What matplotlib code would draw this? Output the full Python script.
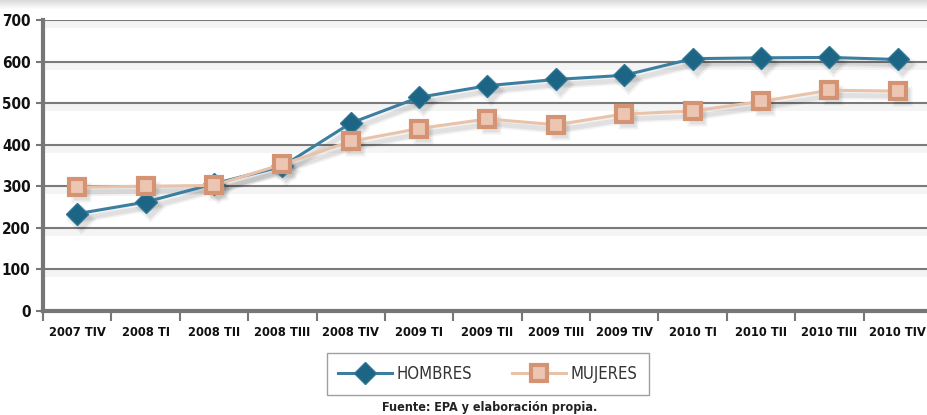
import matplotlib
matplotlib.use("Agg")
import matplotlib.pyplot as plt
import matplotlib.transforms as mtrans
import numpy as np

categories = ["2007 TIV", "2008 TI", "2008 TII", "2008 TIII", "2008 TIV", "2009 TI",
              "2009 TII", "2009 TIII", "2009 TIV", "2010 TI", "2010 TII", "2010 TIII", "2010 TIV"]
hombres = [234, 262, 306, 348, 452, 514, 542, 557, 567, 607, 609, 610, 605]
mujeres = [298, 300, 302, 353, 408, 439, 462, 448, 474, 481, 504, 531, 529]
yticks = [0, 100, 200, 300, 400, 500, 600, 700]

plt.rcParams['font.family'] = ['DejaVu Sans']
plt.rcParams['font.stretch'] = 'condensed'

W, H = 927, 415
fig = plt.figure(figsize=(W/100, H/100), dpi=100)
ax = fig.add_axes([43/W, 1-311/H, (932-43)/W, (311-20)/H])

x = list(range(len(categories)))

def shifted(dx, dy):
    return ax.transData + mtrans.ScaledTranslation(dx/100, dy/100, fig.dpi_scale_trans)

# soft shadows
for lw, ms, a in [(6, 15, 0.05), (3.5, 12, 0.07)]:
    ax.plot(x, mujeres, color='black', lw=lw, marker='s', ms=ms, mfc='black', mec='none',
            alpha=a, transform=shifted(4, -5), zorder=2)
    ax.plot(x, hombres, color='black', lw=lw, marker='D', ms=ms, mfc='black', mec='none',
            alpha=a, transform=shifted(4, -5), zorder=2)

ax.plot(x, hombres, color='#3b7e9f', lw=2.2, marker='D', ms=11, mfc='#1d6585',
        mec='#2f7595', mew=1, label='HOMBRES', zorder=3)
ax.plot(x, mujeres, color='#e9c2aa', lw=2.2, marker='s', ms=12, mfc='#ecc6b2',
        mec='#d49473', mew=3, label='MUJERES', zorder=4)

ax.set_xlim(-0.5, 12.5)
ax.set_ylim(0, 700)
ax.set_yticks(yticks)
ax.set_yticklabels([str(v) for v in yticks], fontsize=11, fontweight='bold', color='#111111')
ax.set_xticks(x)
ax.set_xticklabels(categories, fontsize=9.3, fontweight='bold', color='#111111')
ax.tick_params(axis='x', length=0, pad=11)
ax.set_xticks([i + 0.5 for i in range(-1, 13)], minor=True)
ax.tick_params(axis='x', which='minor', length=7, width=1.5, color='#777777', direction='out')
ax.tick_params(axis='y', length=5, width=1.5, color='#777777', pad=4)

# grid lines with soft shadow
for v in yticks[1:]:
    ax.plot([-0.5, 12.5], [v, v], color='black', lw=5, alpha=0.045, transform=shifted(2, -4), zorder=0.5)
ax.grid(axis='y', color='#7a7a7a', lw=1.5, zorder=1)
ax.set_axisbelow(True)
for s in ['top', 'right']:
    ax.spines[s].set_visible(False)
ax.spines['left'].set_color('#777777')
ax.spines['left'].set_linewidth(3)
ax.spines['bottom'].set_color('#777777')
ax.spines['bottom'].set_linewidth(3)

handles, labels = ax.get_legend_handles_labels()
leg = fig.legend(handles, labels, loc='center', bbox_to_anchor=(488/W, 1-374/H),
                 ncol=2, frameon=True, fancybox=False, fontsize=12, handlelength=3.2,
                 columnspacing=2.4, borderpad=0.7, handletextpad=0.3, borderaxespad=0)
leg.get_frame().set_edgecolor('#888888')
leg.get_frame().set_linewidth(1)
for t in leg.get_texts():
    t.set_color('#333333')
    t.set_fontweight('light')

fig.text(490/W, 1-407/H, "Fuente: EPA y elaboración propia.", ha='center', va='center',
         fontsize=9, fontweight='bold', color='#222222')

# top shadow band
grad = np.linspace(0.86, 1.0, 10).reshape(-1, 1)
img = np.dstack([grad, grad, grad]).repeat(W, axis=1)
fig.figimage(img, xo=0, yo=H-10, origin='upper', zorder=0)

fig.savefig("out.png", dpi=100)
